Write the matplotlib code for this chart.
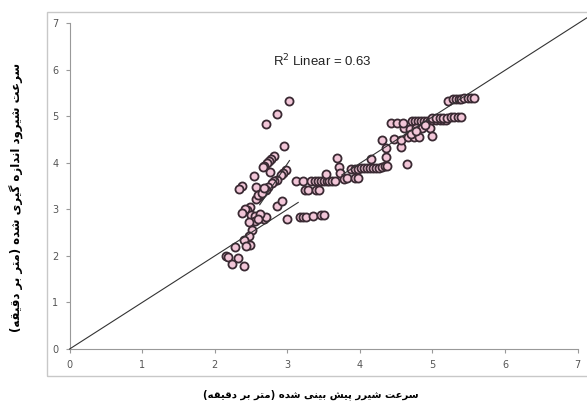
import matplotlib.pyplot as plt
from matplotlib.patches import Rectangle

predicted = [
    3.02, 2.86, 2.70, 2.95, 2.81, 2.77, 2.75, 2.72, 2.68, 2.66,
    2.76, 2.98, 2.94, 2.91, 2.86, 2.82, 2.79, 2.73, 2.70, 2.64,
    2.62, 2.59, 2.57, 2.54, 2.57, 2.38, 2.34, 2.48, 2.45, 2.42,
    2.37, 2.50, 2.55, 2.55, 2.47, 2.68, 2.71, 2.86, 2.92, 2.99,
    2.52, 2.47, 2.41, 2.49, 2.43, 2.28, 2.16, 2.18, 2.32, 2.24,
    2.40, 2.60, 2.65, 2.68, 2.63, 2.60,
    3.12, 3.21, 3.33, 3.38, 3.42, 3.46, 3.50, 3.54, 3.58, 3.62, 3.66,
    3.25, 3.28, 3.40, 3.43,
    3.17, 3.22, 3.26, 3.36, 3.47, 3.51,
    3.53, 3.68, 3.71, 3.72, 3.78, 3.82, 3.93, 3.98,
    3.88, 3.93, 3.97, 4.02, 4.06, 4.10, 4.14, 4.18, 4.22, 4.26, 4.30, 4.34, 4.37,
    4.15, 4.30, 4.36, 4.36, 4.65, 4.47, 4.56, 4.56, 4.61, 4.66, 4.74, 4.81,
    4.43, 4.51, 4.59,
    4.72, 4.76, 4.80, 4.84, 4.88, 4.92, 4.96, 5.00, 5.05, 5.10, 5.14, 5.18,
    5.00, 5.05, 5.10, 5.15, 5.20, 5.25, 5.30, 5.35, 5.40,
    4.69, 4.77, 4.85, 4.97, 5.00, 4.70, 4.78, 4.90,
    5.21, 5.28, 5.32, 5.36, 5.40, 5.44, 5.49, 5.53, 5.57,
]
measured = [
    5.34, 5.06, 4.83, 4.36, 4.15, 4.08, 4.04, 3.99, 3.94, 3.92,
    3.81, 3.85, 3.78, 3.74, 3.63, 3.60, 3.57, 3.49, 3.41, 3.38,
    3.32, 3.27, 3.22, 3.72, 3.49, 3.50, 3.43, 3.06, 2.99, 3.00,
    2.92, 2.88, 2.86, 2.75, 2.74, 2.79, 2.84, 3.08, 3.18, 2.80,
    2.56, 2.42, 2.34, 2.24, 2.21, 2.19, 1.99, 1.97, 1.95, 1.83,
    1.79, 3.30, 3.35, 3.45, 2.90, 2.80,
    3.60, 3.60, 3.60, 3.60, 3.60, 3.60, 3.60, 3.60, 3.60, 3.60, 3.60,
    3.42, 3.42, 3.42, 3.42,
    2.83, 2.83, 2.84, 2.85, 2.87, 2.87,
    3.76, 4.10, 3.92, 3.78, 3.66, 3.68, 3.68, 3.68,
    3.87, 3.87, 3.87, 3.89, 3.89, 3.89, 3.89, 3.89, 3.90, 3.90, 3.91, 3.93, 3.93,
    4.08, 4.49, 4.31, 4.13, 3.97, 4.51, 4.35, 4.50, 4.74, 4.55, 4.55, 4.55,
    4.85, 4.85, 4.85,
    4.91, 4.91, 4.91, 4.91, 4.91, 4.91, 4.91, 4.92, 4.92, 4.92, 4.93, 4.93,
    4.97, 4.97, 4.97, 4.97, 4.97, 4.98, 4.98, 4.98, 4.99,
    4.72, 4.74, 4.74, 4.76, 4.58, 4.63, 4.68, 4.81,
    5.34, 5.37, 5.38, 5.38, 5.38, 5.39, 5.39, 5.39, 5.40,
]

# reference line pieces (x0, x1, y0, y1)
ref_lines = [
    (0.0, 3.15, 0.0, 3.15),
    (3.75, 7.15, 3.74, 7.14),
    (2.62, 3.03, 3.10, 4.05),
]

xlabel = "سرعت شیرر پیش بینی شده (متر بر دقیقه)"
ylabel = "سرعت شیرود اندازه گیری شده (متر بر دقیقه)"

# isolated, final, initial, medial presentation forms
FORMS = {
    'ا': ('\ufe8d', '\ufe8e', None, None),
    'ب': ('\ufe8f', '\ufe90', '\ufe91', '\ufe92'),
    'ت': ('\ufe95', '\ufe96', '\ufe97', '\ufe98'),
    'د': ('\ufea9', '\ufeaa', None, None),
    'ر': ('\ufead', '\ufeae', None, None),
    'ز': ('\ufeaf', '\ufeb0', None, None),
    'س': ('\ufeb1', '\ufeb2', '\ufeb3', '\ufeb4'),
    'ش': ('\ufeb5', '\ufeb6', '\ufeb7', '\ufeb8'),
    'ع': ('\ufec9', '\ufeca', '\ufecb', '\ufecc'),
    'ق': ('\ufed5', '\ufed6', '\ufed7', '\ufed8'),
    'م': ('\ufee1', '\ufee2', '\ufee3', '\ufee4'),
    'ن': ('\ufee5', '\ufee6', '\ufee7', '\ufee8'),
    'ه': ('\ufee9', '\ufeea', '\ufeeb', '\ufeec'),
    'و': ('\ufeed', '\ufeee', None, None),
    'پ': ('\ufb56', '\ufb57', '\ufb58', '\ufb59'),
    'گ': ('\ufb92', '\ufb93', '\ufb94', '\ufb95'),
    'ی': ('\ufbfc', '\ufbfd', '\ufbfe', '\ufbff'),
}


def shape(text):
    out = []
    for i, ch in enumerate(text):
        if ch not in FORMS:
            out.append(ch)
            continue
        prev = text[i - 1] if i > 0 else ''
        nxt = text[i + 1] if i + 1 < len(text) else ''
        join_prev = prev in FORMS and FORMS[prev][2] is not None
        join_next = FORMS[ch][2] is not None and nxt in FORMS
        iso, fin, ini, med = FORMS[ch]
        if join_prev and join_next:
            out.append(med)
        elif join_prev:
            out.append(fin)
        elif join_next:
            out.append(ini)
        else:
            out.append(iso)
    vis = ''.join(reversed(out))
    return vis.translate(str.maketrans('()', ')('))


fig = plt.figure(figsize=(5.87, 4.03), dpi=100)
fig.patches.append(Rectangle((47.5 / 587, 1 - 376 / 403), 1.0, (376 - 11.7) / 403,
                             transform=fig.transFigure, fill=False,
                             edgecolor='#c8c8c8', linewidth=1.0))
ax = fig.add_axes([69.6 / 587, 54 / 403, 508 / 587, 325.7 / 403])
ax.patch.set_alpha(0)

for x0, x1, y0, y1 in ref_lines:
    ax.plot([x0, x1], [y0, y1], color='#333333', lw=0.8, clip_on=False, zorder=3)

ax.scatter(predicted, measured, s=34, facecolor='#f2c6d8', edgecolor='#3a2a33',
           linewidth=1.3, zorder=2)

ax.text(3.48, 6.2, 'R$^2$ Linear = 0.63', fontsize=9.5, family='Liberation Sans',
        ha='center', va='center', color='#222222')

ax.set_xlim(0, 7)
ax.set_ylim(0, 7)
ax.set_xticks(range(8))
ax.set_yticks(range(8))
for s in ['top', 'right']:
    ax.spines[s].set_visible(False)
for s in ['left', 'bottom']:
    ax.spines[s].set_color('#999999')
    ax.spines[s].set_linewidth(0.8)
ax.tick_params(length=3, width=0.8, color='#999999', labelsize=7,
               labelcolor='#555555', pad=5)

fig.text(311 / 587, 1 - 395 / 403, shape(xlabel), ha='center', va='center',
         fontsize=7.3, fontweight='bold', family='DejaVu Sans')
fig.text(17 / 587, 1 - 197 / 403, shape(ylabel), ha='center', va='center',
         rotation=90, fontsize=8.5, fontweight='bold', family='DejaVu Sans')

fig.savefig('out.png', dpi=100)
